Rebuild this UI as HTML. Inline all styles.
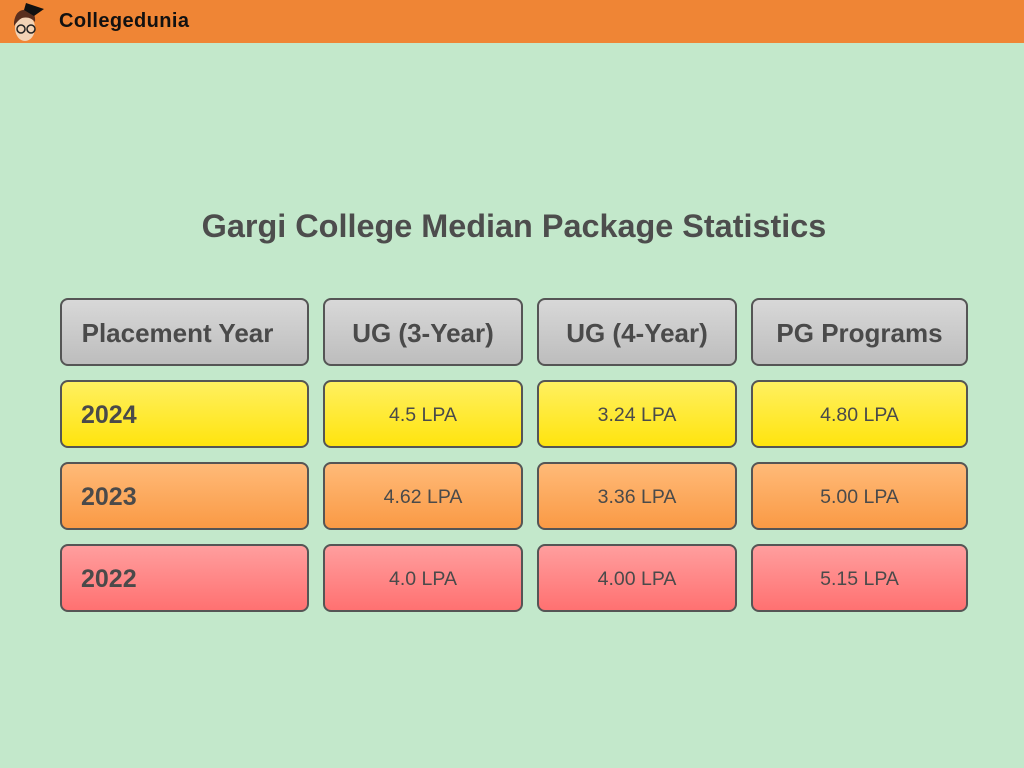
<!DOCTYPE html>
<html><head><meta charset="utf-8"><style>
body{margin:0;width:1024px;height:768px;background:#c3e8cb;font-family:"Liberation Sans",sans-serif;position:relative;overflow:hidden}
.bar{position:absolute;left:0;top:0;width:1024px;height:43px;background:#ef8535}
.logo{position:absolute;left:59px;top:10px;font-size:20px;font-weight:bold;letter-spacing:0.4px;color:#111}
.title{position:absolute;left:0;width:1028px;top:208px;text-align:center;font-size:32.4px;font-weight:bold;color:#4d4d4d}
.c{position:absolute;box-sizing:border-box;border:2.5px solid #555;border-radius:8px;display:flex;align-items:center;justify-content:center;color:#4a4a4a;font-size:19.5px;padding-top:2px}
.h{background:linear-gradient(#d8d8d8,#bdbdbd);font-weight:bold;font-size:26px}
.y{background:linear-gradient(#fff060,#ffe40e)}
.o{background:linear-gradient(#ffba78,#fa9a45)}
.r{background:linear-gradient(#ff9e9e,#ff7171)}
.l{justify-content:flex-start;padding-left:19px;font-weight:bold;font-size:25px}
</style></head><body>
<div class="bar"></div>
<svg style="position:absolute;left:8px;top:0" width="42" height="44">
<ellipse cx="17" cy="28" rx="10" ry="13" fill="#f3d3b5"/>
<path d="M6 22 Q8 8 20 10 Q28 12 27 22 Q22 16 14 18 Q10 20 6 26Z" fill="#5a2f1e"/>
<polygon points="18,3 36,9 26,16 16,10" fill="#111"/>
<circle cx="13" cy="29" r="4" fill="none" stroke="#222" stroke-width="1.5"/>
<circle cx="23" cy="29" r="4" fill="none" stroke="#222" stroke-width="1.5"/>
</svg>
<div class="logo">Collegedunia</div>
<div class="title">Gargi College Median Package Statistics</div>

<div class="c h" style="left:60px;top:298px;width:249px;height:68px;padding-right:14px">Placement Year</div>
<div class="c h" style="left:323px;top:298px;width:200px;height:68px">UG (3-Year)</div>
<div class="c h" style="left:537px;top:298px;width:200px;height:68px">UG (4-Year)</div>
<div class="c h" style="left:751px;top:298px;width:217px;height:68px">PG Programs</div>

<div class="c y l" style="left:60px;top:380px;width:249px;height:68px">2024</div>
<div class="c y" style="left:323px;top:380px;width:200px;height:68px">4.5 LPA</div>
<div class="c y" style="left:537px;top:380px;width:200px;height:68px">3.24 LPA</div>
<div class="c y" style="left:751px;top:380px;width:217px;height:68px">4.80 LPA</div>

<div class="c o l" style="left:60px;top:462px;width:249px;height:68px">2023</div>
<div class="c o" style="left:323px;top:462px;width:200px;height:68px">4.62 LPA</div>
<div class="c o" style="left:537px;top:462px;width:200px;height:68px">3.36 LPA</div>
<div class="c o" style="left:751px;top:462px;width:217px;height:68px">5.00 LPA</div>

<div class="c r l" style="left:60px;top:544px;width:249px;height:68px">2022</div>
<div class="c r" style="left:323px;top:544px;width:200px;height:68px">4.0 LPA</div>
<div class="c r" style="left:537px;top:544px;width:200px;height:68px">4.00 LPA</div>
<div class="c r" style="left:751px;top:544px;width:217px;height:68px">5.15 LPA</div>
</body></html>
